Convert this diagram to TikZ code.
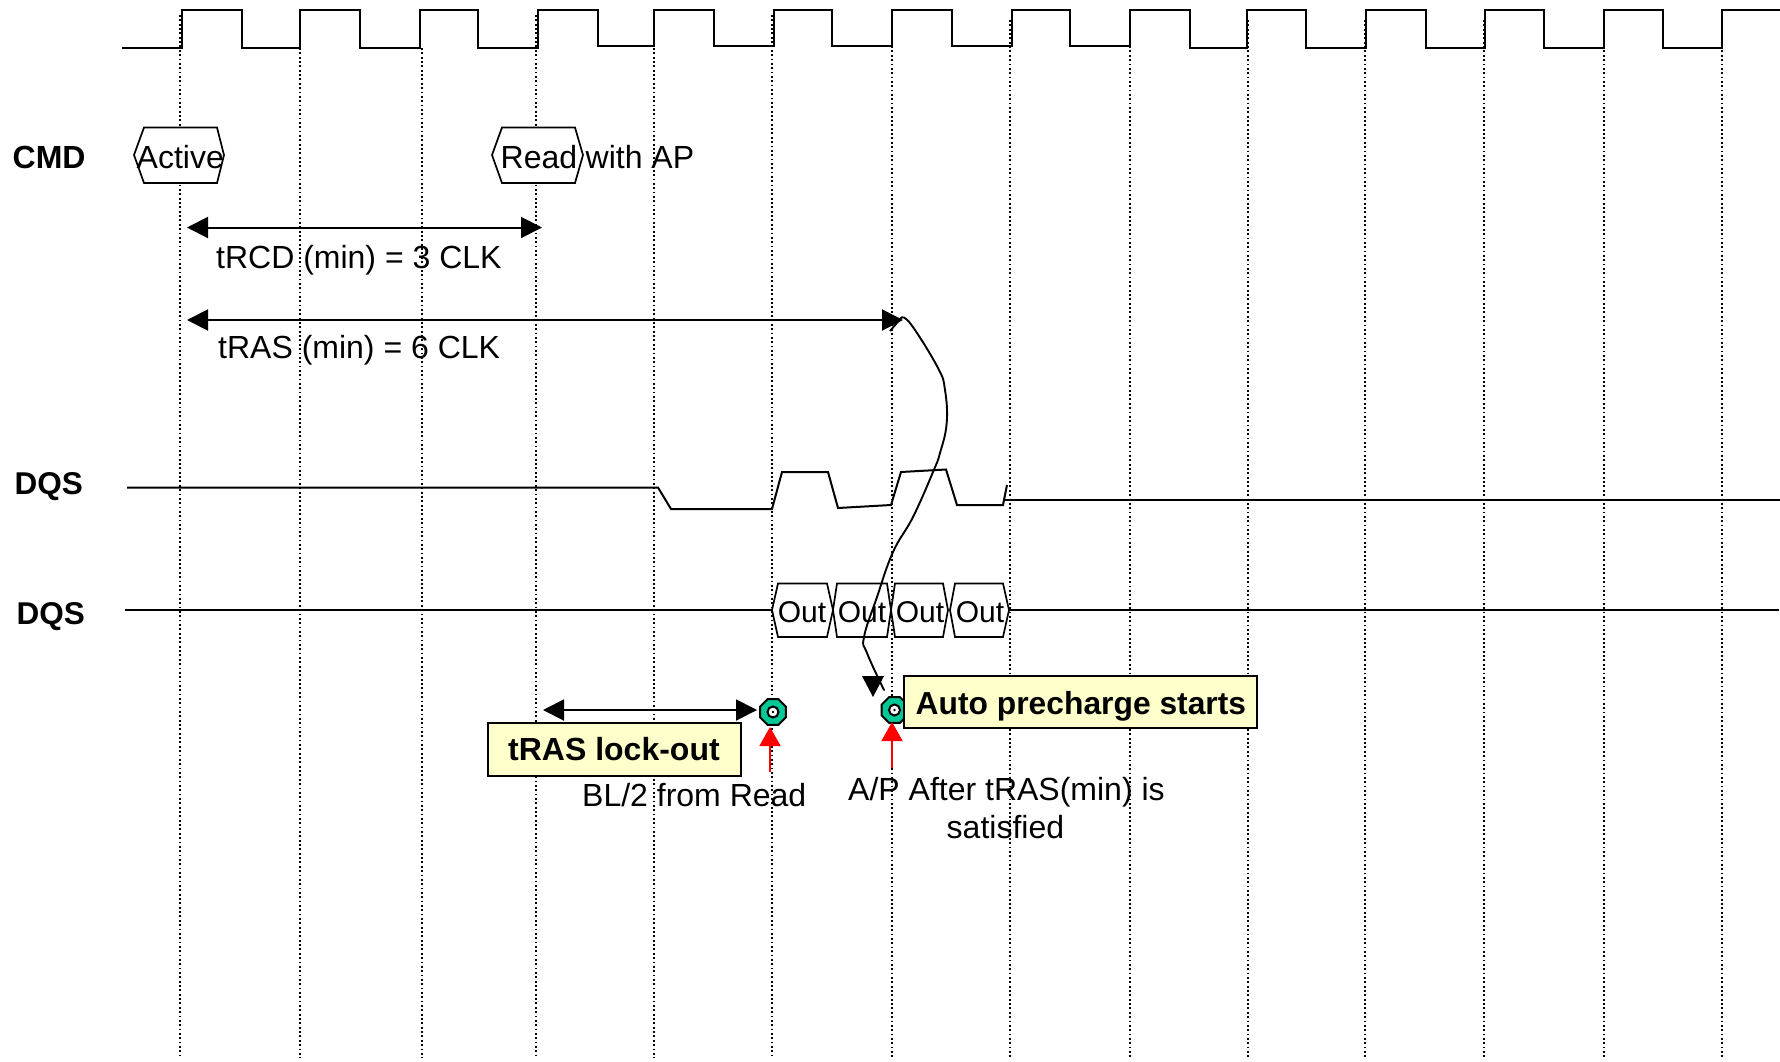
\documentclass[tikz,border=0pt]{standalone}
\usepackage{fontspec}
\setmainfont{Liberation Sans}
\usetikzlibrary{arrows.meta,shapes.geometric}
\definecolor{noteyellow}{HTML}{FFFFCC}
\definecolor{markteal}{HTML}{00C896}
\tikzset{
  wave/.style={line width=2pt,line join=miter},
  gridline/.style={line width=1.7pt,dash pattern=on 1.8pt off 2.55pt},
  hexbox/.style={line width=1.7pt,fill=white,line join=miter},
  span/.style={line width=2pt,{Triangle[length=21pt,width=21pt]}-{Triangle[length=21pt,width=21pt]}},
  redarrow/.style={line width=1.9pt,red,-{Triangle[length=19pt,width=21pt]}},
  lbl/.style={anchor=base west,inner sep=0pt,font=\fontsize{32}{32}\selectfont},
  outlbl/.style={anchor=base,inner sep=0pt,font=\fontsize{30}{30}\selectfont},
  bold/.style={anchor=base west,inner sep=0pt,font=\fontsize{32}{32}\selectfont\bfseries},
  note/.style={draw=black,line width=1.8pt,fill=noteyellow},
  octo/.style={regular polygon,regular polygon sides=8,draw=black,line width=2pt,fill=markteal,minimum size=28pt,inner sep=0pt},
  octoeye/.style={circle,draw=black,line width=2pt,fill=white,minimum size=11pt,inner sep=0pt}
}
\begin{document}
\begin{tikzpicture}[x=1pt,y=-1pt]
\useasboundingbox[fill=white] (0,0) rectangle (1780,1061);

% dotted clock grid
\foreach \gx/\gy in {180/15,300/48,422/48,536/15,654/48,772/15,892/20,1010/20,1130/20,1248/20,1365/20,1484/20,1604/20,1722/20}
  \draw[gridline] (\gx,\gy) -- (\gx,1058);

% clock
\draw[wave] (122,47.5) -- (182,47.5) -- (182,10) -- (242,10) -- (242,47.5)
  -- (300,47.5) -- (300,10) -- (360,10) -- (360,47.5)
  -- (420,47.5) -- (420,10) -- (478,10) -- (478,47.5)
  -- (538,47.5) -- (538,10) -- (598,10) -- (598,46)
  -- (654,46) -- (654,10) -- (714,10) -- (714,46)
  -- (774,46) -- (774,10) -- (832,10) -- (832,46)
  -- (892,46) -- (892,10) -- (952,10) -- (952,46)
  -- (1012,46) -- (1012,10) -- (1070,10) -- (1070,46)
  -- (1130,46) -- (1130,10) -- (1190,10) -- (1190,47.5)
  -- (1247,47.5) -- (1247,10) -- (1306,10) -- (1306,47.5)
  -- (1366,47.5) -- (1366,10) -- (1426,10) -- (1426,47.5)
  -- (1485,47.5) -- (1485,10) -- (1544,10) -- (1544,47.5)
  -- (1604,47.5) -- (1604,10) -- (1663,10) -- (1663,47.5)
  -- (1722,47.5) -- (1722,10) -- (1780,10);

% signal rows
\draw[wave] (127,487.5) -- (658,487.5) -- (671,509) -- (772,509) -- (782,472) -- (828,472)
  -- (838,508) -- (891,505) -- (901,472) -- (946,469.5) -- (957,505) -- (1003,505) -- (1007,485);
\draw[wave] (1004,499.5) -- (1780,499.5);
\draw[wave] (125,609.5) -- (772,609.5);
\draw[wave] (1009,609.5) -- (1779,609.5);

% command hexagons
\draw[hexbox] (134,155) -- (144,127.5) -- (217,127.5) -- (224,155) -- (217,183) -- (144,183) -- cycle;
\draw[hexbox] (492,155) -- (502,127.5) -- (575,127.5) -- (583,155) -- (575,183) -- (502,183) -- cycle;
% data hexagons
\draw[hexbox] (772,610) -- (778,583.5) -- (827,583.5) -- (833,610) -- (827,637) -- (778,637) -- cycle;
\draw[hexbox] (833,610) -- (837,583.5) -- (887,583.5) -- (891,610) -- (887,637) -- (837,637) -- cycle;
\draw[hexbox] (891,610) -- (895,583.5) -- (943,583.5) -- (948,610) -- (943,637) -- (895,637) -- cycle;
\draw[hexbox] (950,610) -- (955,583.5) -- (1003,583.5) -- (1009,610) -- (1003,637) -- (955,637) -- cycle;

% labels
\node[bold] (cmd) at (12.5,168) {CMD};
\node[bold,font=\fontsize{31.5}{32}\selectfont\bfseries] (dqsa) at (14.5,494) {DQS};
\node[bold,font=\fontsize{31.5}{32}\selectfont\bfseries] (dqsb) at (16.5,624) {DQS};
\node[lbl] (active) at (136.5,168) {Active};
\node[lbl] (read) at (500.5,168) {Read};
\node[lbl] (withap) at (585.5,168) {with AP};
\node[lbl] (trcd) at (216,268) {tRCD (min) = 3 CLK};
\node[lbl] (tras) at (218,358) {tRAS (min) = 6 CLK};
\node[outlbl] (o1) at (802,622) {Out};
\node[outlbl] (o2) at (862,622) {Out};
\node[outlbl] (o3) at (920,622) {Out};
\node[outlbl] (o4) at (980,622) {Out};

% spans
\coordinate (trcdL) at (187,227.5);
\coordinate (trcdR) at (542,227.5);
\coordinate (trasL) at (187,320);
\coordinate (trasR) at (903,320);
\coordinate (lockL) at (543,710);
\coordinate (lockR) at (757,710);
\draw[span] (trcdL) -- (trcdR);
\draw[span] (trasL) -- (trasR);
\draw[span] (lockL) -- (lockR);

% markers
\node[octo] (mka) at (773,712) {};
\node[octoeye] (eyea) at (773,712) {};
\fill (773,712) circle (1.3pt);
\node[octo] (mkb) at (894.5,710) {};
\node[octoeye] (eyeb) at (894.5,710) {};
\fill (894.5,710) circle (1.3pt);

% freehand curve from tRAS end to auto precharge
\coordinate (cs) at (890,331);
\coordinate (ce) at (884,690);
\draw[line width=1.9pt,line cap=round] plot[smooth,tension=0.7] coordinates {(901.5,317.5) (911.5,325) (938,368) (945,390) (946.7,423) (940,453) (933,472) (913,517) (893,552) (877,597) (864,637) (867,653) (ce)};
\draw[line width=1.9pt] (cs) -- (901.5,317.5);
\fill (862,676) -- (884,676) -- (873,697) -- cycle;

% notes
\node[note,minimum width=253pt,minimum height=53pt,inner sep=0pt] (lock) at (614.5,749.5) {};
\node[bold] (locktxt) at (508,760) {tRAS lock-out};
\node[note,minimum width=353pt,minimum height=52pt,inner sep=0pt] (auto) at (1080.5,702) {};
\node[bold,font=\fontsize{31.8}{32}\selectfont\bfseries] (autotxt) at (915.5,714) {Auto precharge starts};

% red arrows
\coordinate (ra) at (770,772);
\coordinate (rb) at (892,768);
\draw[redarrow] (ra) -- (770,727);
\draw[redarrow] (rb) -- (892,722);

% captions
\node[lbl] (bl) at (582,806) {BL/2 from Read};
\node[lbl] (ap) at (848,800) {A/P After tRAS(min) is};
\node[lbl] (sat) at (946.5,838) {satisfied};
\end{tikzpicture}
\end{document}
